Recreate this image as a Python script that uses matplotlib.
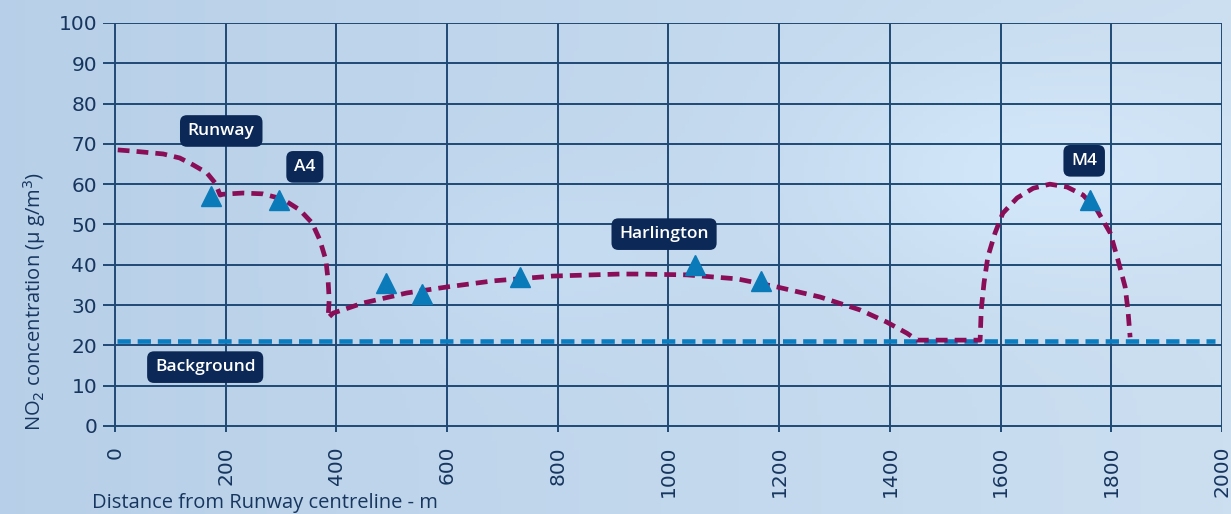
import matplotlib.pyplot as plt
import numpy as np

# measured sites (triangles)
site_x = [173, 296, 490, 555, 732, 1048, 1167, 1762]
site_y = [57.1, 56.0, 35.5, 32.8, 37.0, 40.0, 36.0, 56.0]

# modelled concentration profile (dashed purple)
prof_x = [5, 33, 87, 117, 141, 166, 181, 190, 195, 231, 267, 303, 334, 356, 370,
          381, 385, 387, 385, 394, 448, 527, 600, 683, 791, 912, 943, 1033, 1124,
          1196, 1274, 1346, 1394, 1431, 1449, 1563, 1565, 1570, 1577, 1590, 1604,
          1630, 1659, 1689, 1720, 1749, 1774, 1798, 1812, 1825, 1830, 1834]
prof_y = [68.5, 68.2, 67.5, 66.5, 64.8, 62.8, 60.3, 57.3, 57.5, 57.8, 57.6, 56.3,
          53.6, 50.4, 46.2, 41.2, 36.2, 31.3, 26.8, 28.0, 30.5, 33.0, 34.5, 36.0,
          37.2, 37.7, 37.7, 37.5, 36.5, 34.5, 32.0, 28.8, 25.8, 23.0, 21.3, 21.3,
          28.8, 35.5, 42.0, 47.9, 52.8, 56.6, 59.0, 60.0, 59.3, 57.3, 53.6, 47.9,
          41.2, 34.5, 28.8, 22.0]

background_level = 21.1
bg_x = [3, 1988]

labels = ['Runway', 'A4', 'Harlington', 'M4', 'Background']
label_x = [192, 343, 992, 1751, 163]
label_y = [73.2, 64.3, 47.6, 65.8, 14.6]

xticks = list(range(0, 2001, 200))
yticks = list(range(0, 101, 10))

navy = '#17365f'
fig = plt.figure(figsize=(12.31, 5.14), dpi=100)

# sky-ish background
bg = fig.add_axes([0, 0, 1, 1], zorder=-1)
h, w = 120, 300
yy, xx = np.mgrid[0:h, 0:w]
gx = xx / w
c0 = np.array([0.72, 0.815, 0.91])
c1 = np.array([0.80, 0.875, 0.945])
img = c0[None, None, :] * (1 - gx[..., None]) + c1[None, None, :] * gx[..., None]
blob = np.exp(-(((xx - 250) / 50.0) ** 2 + ((yy - 40) / 25.0) ** 2))
blob += 0.5 * np.exp(-(((xx - 130) / 35.0) ** 2 + ((yy - 60) / 20.0) ** 2))
img = img + 0.04 * blob[..., None]
bg.imshow(np.clip(img, 0, 1), aspect='auto', extent=[0, 1, 0, 1])
bg.axis('off')

ax = fig.add_axes([0.0835, 0.1595, 0.9092, 0.7958])
ax.set_facecolor('none')
ax.set_xlim(-22, 2000)
ax.set_ylim(-1.5, 100)
for s in ax.spines.values():
    s.set_visible(False)
ax.set_xticks(xticks)
ax.set_yticks(yticks)
ax.grid(True, color='#1f4a75', lw=1.4)
ax.tick_params(length=0, colors=navy, labelsize=14.5, pad=4)
for lab in ax.get_xticklabels():
    lab.set_rotation(90)
ax.tick_params(axis='x', pad=10)

ax.plot(bg_x, [background_level, background_level], color='#0a7cc0', lw=3.3,
        dashes=(2.9, 1.5), zorder=3)
ax.plot(prof_x, prof_y, color='#8a0d57', lw=3.4, dashes=(2.5, 1.5), zorder=4,
        solid_joinstyle='round')
ax.plot(site_x, site_y, ls='none', marker='^', ms=15, color='#0a7ab8', zorder=5)

for t, x, y in zip(labels, label_x, label_y):
    ax.text(x, y, t, color='white', fontsize=12.5, family='Open Sans', weight='semibold',
            ha='center', va='center', zorder=6,
            bbox=dict(boxstyle='round,pad=0.45,rounding_size=0.4', fc='#0b2857', ec='none'))

ax.set_ylabel('NO$_2$ concentration (µ g/m$^3$)', color=navy, fontsize=14.5, family='Open Sans')
ax.yaxis.set_label_coords(-0.049, 0.32)
fig.text(92 / 1231, 1 - 503 / 514, 'Distance from Runway centreline - m', color=navy,
         fontsize=14.5, family='Open Sans', ha='left', va='center')

fig.savefig('out.png', dpi=100)
